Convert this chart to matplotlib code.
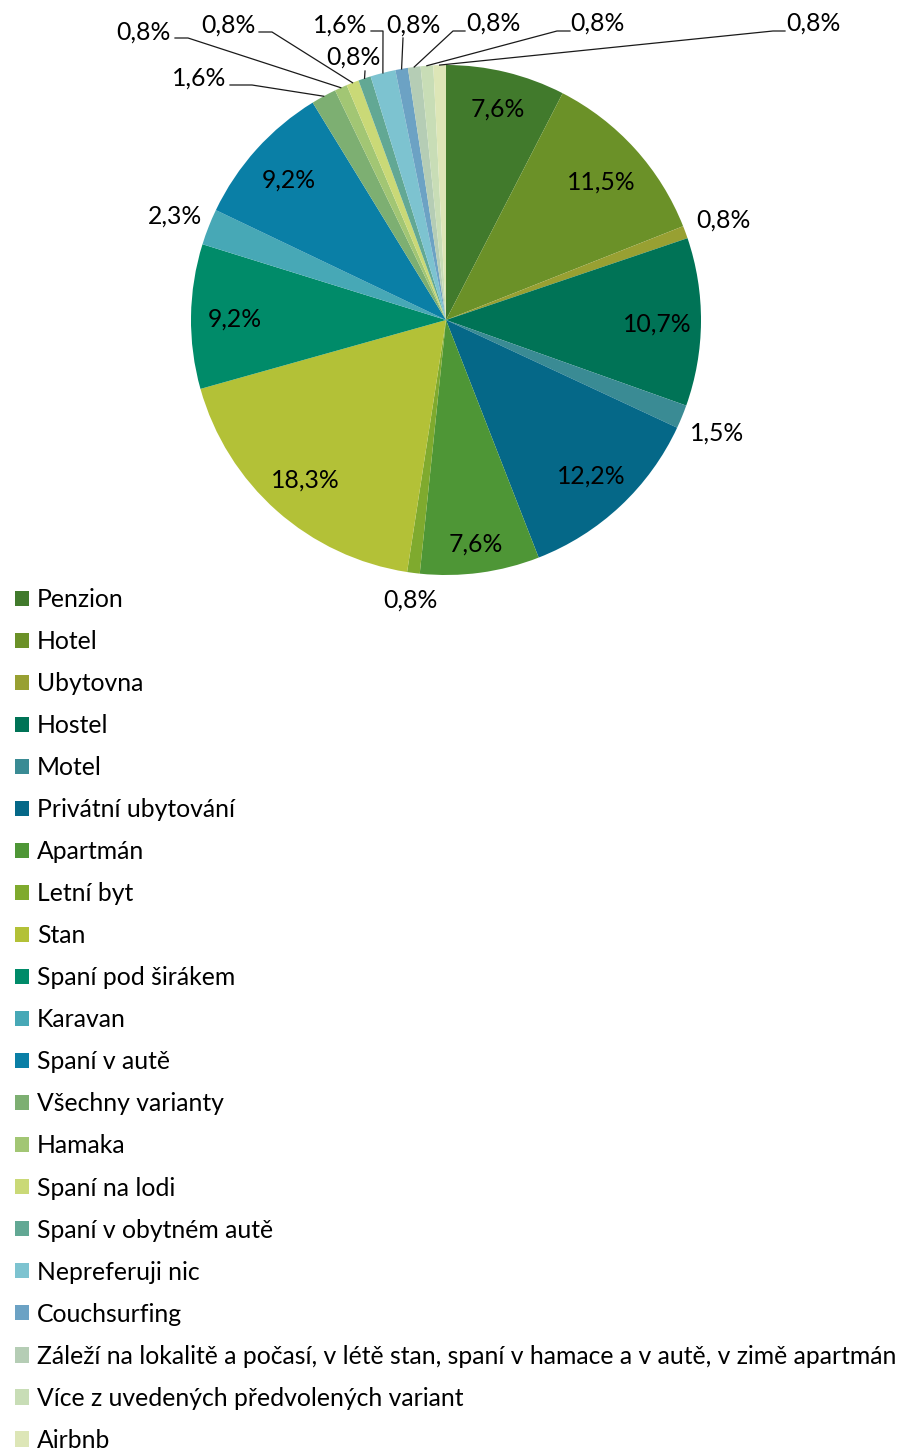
import matplotlib
matplotlib.use('Agg')
import matplotlib.pyplot as plt
import numpy as np

# data (share of answers, %)
categories = ['Penzion', 'Hotel', 'Ubytovna', 'Hostel', 'Motel',
              'Privátní ubytování', 'Apartmán', 'Letní byt', 'Stan',
              'Spaní pod širákem', 'Karavan', 'Spaní v autě',
              'Všechny varianty', 'Hamaka', 'Spaní na lodi',
              'Spaní v obytném autě', 'Nepreferuji nic', 'Couchsurfing',
              'Záleží na lokalitě a počasí, v létě stan, spaní v hamace a v autě, v zimě apartmán',
              'Více z uvedených předvolených variant', 'Airbnb']
values = [7.6, 11.5, 0.8, 10.7, 1.5, 12.2, 7.6, 0.8, 18.3, 9.2, 2.3, 9.2,
          1.6, 0.8, 0.8, 0.8, 1.6, 0.8, 0.8, 0.8, 0.8]
colors = ['#417A2C', '#6B9128', '#98A032', '#007356', '#3A8B94', '#056888',
          '#4E9636', '#7FAA2E', '#B3C137', '#008B69', '#47A8B6', '#0A7FA6',
          '#7DAF72', '#A2C674', '#CAD977', '#62A894', '#7DC3D0', '#6CA2C4',
          '#B5CDB5', '#C8DDB6', '#DDE6B7']

# layout (pixels)
W, H = 903, 1451
cx, cy, R = 446, 320, 255
# label distance (in radii) per slice, default 0.83 inside
label_dist = {0: 0.86, 1: 0.82, 6: 0.88, 2: 1.16, 4: 1.15, 7: 1.10, 10: 1.14}
# leader labels: index -> (text x, text y, line start, elbow)
leaders = {
    12: (199, 78, (230, 85), (252, 85)),
    13: (143, 32, (175, 38), (188, 38)),
    14: (228, 25, (259, 32), (272, 32)),
    15: (353, 57, (365, 71), (365, 71)),
    16: (340, 25, (371, 31), (383, 31)),
    17: (413, 25, (403, 38), (403, 38)),
    18: (493, 23, (465, 31), (453, 31)),
    19: (597, 23, (570, 31), (557, 31)),
    20: (813, 23, (785, 31), (773, 31)),
}

plt.rcParams['font.family'] = ['Lato', 'DejaVu Sans']
fs = 17.8

fig = plt.figure(figsize=(W / 100, H / 100), dpi=100)
ax = fig.add_axes([0, 0, 1, 1])
wedges, _ = ax.pie(values, colors=colors, center=(cx, cy), radius=R,
                   startangle=-90, counterclock=True,
                   wedgeprops={'linewidth': 0})
ax.set_xlim(0, W)
ax.set_ylim(H, 0)
ax.set_aspect('auto')
ax.axis('off')

def fmt(v):
    return f'{v:.1f}%'.replace('.', ',')

for i, (w, v) in enumerate(zip(wedges, values)):
    mid = np.deg2rad((w.theta1 + w.theta2) / 2)
    if i in leaders:
        tx, ty, s, e = leaders[i]
        px, py = cx + R * np.cos(mid), cy + R * np.sin(mid)
        ax.plot([s[0], e[0], px], [s[1], e[1], py], color='#1a1a1a', lw=0.9)
        ax.text(tx, ty, fmt(v), ha='center', va='center', fontsize=fs)
    else:
        d = label_dist.get(i, 0.83)
        ax.text(cx + d * R * np.cos(mid), cy + d * R * np.sin(mid) + 2, fmt(v),
                ha='center', va='center', fontsize=fs)

ax.legend(wedges, categories, loc='upper left',
          bbox_to_anchor=(15 / W, 1 - 588 / H), frameon=False,
          fontsize=fs, handlelength=0.57, handleheight=0.57,
          handletextpad=0.32, labelspacing=0.77, borderpad=0,
          borderaxespad=0)

fig.savefig('out.png', dpi=100)
